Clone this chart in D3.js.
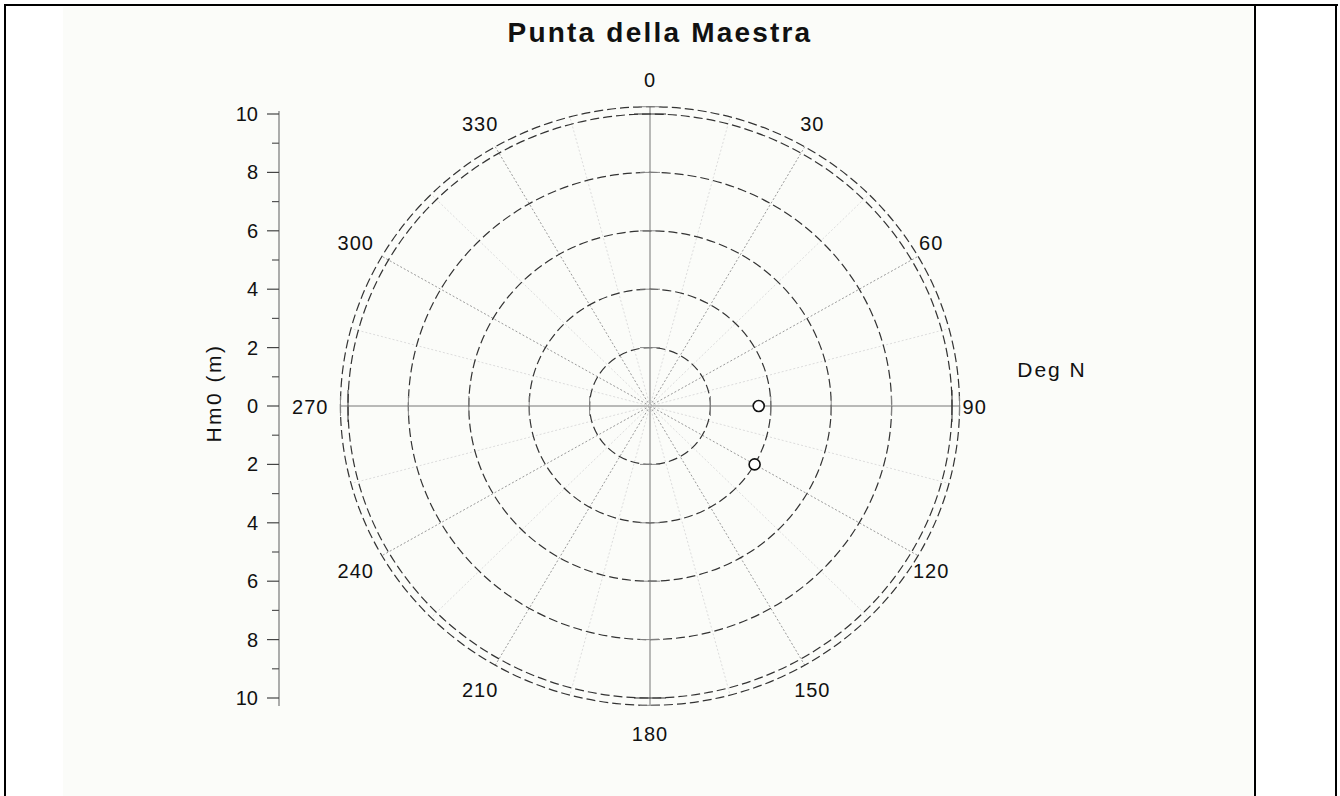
<!DOCTYPE html>
<html>
<head>
<meta charset="utf-8">
<script src="https://cdn.jsdelivr.net/npm/d3@7"></script>
<style>
  body { margin: 0; background: #fff; }
  text { font-family: "Liberation Sans", Arial, sans-serif; fill: #111; }
</style>
</head>
<body>
<div id="chart"></div>
<script>
// data
var title = "Punta della Maestra";
var ringValues = [2, 4, 6, 8, 10];
var angleLabels = [0, 30, 60, 90, 120, 150, 180, 210, 240, 270, 300, 330];
var axisTicks = [-10, -8, -6, -4, -2, 0, 2, 4, 6, 8, 10];
var minorTicks = [-9, -7, -5, -3, -1, 1, 3, 5, 7, 9];
var pointDir = [90, 120];
var pointHm0 = [3.6, 4.0];

var W = 1340, H = 796;
var cx = 650, cy = 406;

var svg = d3.select("#chart").append("svg")
  .attr("width", W).attr("height", H);

// page frame (table cell look)
svg.append("rect").attr("x", 63).attr("y", 7).attr("width", 1190).attr("height", H - 7)
  .attr("fill", "#fbfcf9");
svg.append("line").attr("x1", 4).attr("x2", 1338).attr("y1", 5).attr("y2", 5)
  .attr("stroke", "#000").attr("stroke-width", 2);
svg.append("line").attr("x1", 5).attr("x2", 5).attr("y1", 4).attr("y2", H)
  .attr("stroke", "#000").attr("stroke-width", 2);
svg.append("line").attr("x1", 1255).attr("x2", 1255).attr("y1", 5).attr("y2", H)
  .attr("stroke", "#000").attr("stroke-width", 2);
svg.append("line").attr("x1", 1336).attr("x2", 1336).attr("y1", 4).attr("y2", H)
  .attr("stroke", "#000").attr("stroke-width", 2);

// radial scales (the picture is a little wider than tall)
var rx = d3.scaleLinear().domain([0, 10]).range([0, 302]);
var ry = d3.scaleLinear().domain([0, 10]).range([0, 292]);
function px(a, r) { return cx + rx(r) * Math.sin(a * Math.PI / 180); }
function py(a, r) { return cy - ry(r) * Math.cos(a * Math.PI / 180); }

var g = svg.append("g");

// spokes
var spokes = d3.range(0, 360, 15);
g.selectAll(".spoke").data(spokes).enter().append("line")
  .attr("x1", cx).attr("y1", cy)
  .attr("x2", function(d) { return px(d, 10.25); })
  .attr("y2", function(d) { return py(d, 10.25); })
  .attr("stroke", function(d) { return d % 90 == 0 ? "#777" : (d % 30 == 0 ? "#999" : "#ddd"); })
  .attr("stroke-width", 1)
  .attr("stroke-dasharray", function(d) { return d % 90 == 0 ? null : "2,2"; });

// rings
g.selectAll(".ring").data(ringValues.concat([10.25])).enter().append("ellipse")
  .attr("cx", cx).attr("cy", cy)
  .attr("rx", function(d) { return rx(d); })
  .attr("ry", function(d) { return ry(d); })
  .attr("fill", "none")
  .attr("stroke", "#333")
  .attr("stroke-width", 1.2)
  .attr("stroke-dasharray", "9,4");

// cross ticks on the main axes
[0, 90, 180, 270].forEach(function(a) {
  ringValues.concat([10.25]).forEach(function(r) {
    var len = r == 10 ? 16 : 10;
    var x = px(a, r), y = py(a, r);
    var vert = (a == 90 || a == 270);
    g.append("line")
      .attr("x1", vert ? x : x - len).attr("x2", vert ? x : x + len)
      .attr("y1", vert ? y - len : y).attr("y2", vert ? y + len : y)
      .attr("stroke", r == 10 ? "#333" : "#888").attr("stroke-width", 1);
  });
});

// angle labels (left side sits a bit further out)
g.selectAll(".alab").data(angleLabels).enter().append("text")
  .attr("x", function(d) { return d < 180 ? px(d, 10.75) : px(d, 11.25); })
  .attr("y", function(d) { return py(d, 11.2) + 8; })
  .attr("text-anchor", "middle")
  .attr("font-size", 20)
  .attr("letter-spacing", 1)
  .text(function(d) { return d; });

// data points
g.selectAll(".pt").data(pointDir).enter().append("circle")
  .attr("cx", function(d, i) { return px(d, pointHm0[i]); })
  .attr("cy", function(d, i) { return py(d, pointHm0[i]); })
  .attr("r", 5.5)
  .attr("fill", "#fff")
  .attr("stroke", "#111")
  .attr("stroke-width", 1.6);

// left Hm0 axis
var y = d3.scaleLinear().domain([-10, 10]).range([cy + ry(10), cy - ry(10)]);
var axisX = 279;
var ax = svg.append("g").attr("transform", "translate(" + axisX + ",0)");
ax.append("line").attr("x1", 0).attr("x2", 0)
  .attr("y1", y(10) - 3).attr("y2", y(-10) + 8)
  .attr("stroke", "#777").attr("stroke-width", 1.2);
ax.selectAll(".maj").data(axisTicks).enter().append("line")
  .attr("x1", -12).attr("x2", 0)
  .attr("y1", function(d) { return y(d); }).attr("y2", function(d) { return y(d); })
  .attr("stroke", "#444").attr("stroke-width", 1.2);
ax.selectAll(".min").data(minorTicks).enter().append("line")
  .attr("x1", -7).attr("x2", 0)
  .attr("y1", function(d) { return y(d); }).attr("y2", function(d) { return y(d); })
  .attr("stroke", "#555").attr("stroke-width", 1.2);
ax.selectAll(".tl").data(axisTicks).enter().append("text")
  .attr("x", -21)
  .attr("y", function(d) { return y(d) + 7; })
  .attr("text-anchor", "end")
  .attr("font-size", 20)
  .text(function(d) { return Math.abs(d); });

svg.append("text")
  .attr("transform", "translate(221,393) rotate(-90)")
  .attr("text-anchor", "middle")
  .attr("font-size", 21)
  .attr("letter-spacing", 2.5)
  .text("Hm0 (m)");

svg.append("text")
  .attr("x", 1052).attr("y", 377)
  .attr("text-anchor", "middle")
  .attr("font-size", 21)
  .attr("letter-spacing", 2)
  .text("Deg N");

svg.append("text")
  .attr("x", 660).attr("y", 42)
  .attr("text-anchor", "middle")
  .attr("font-size", 28)
  .attr("font-weight", "bold")
  .attr("letter-spacing", 2.2)
  .text(title);
</script>
</body>
</html>
